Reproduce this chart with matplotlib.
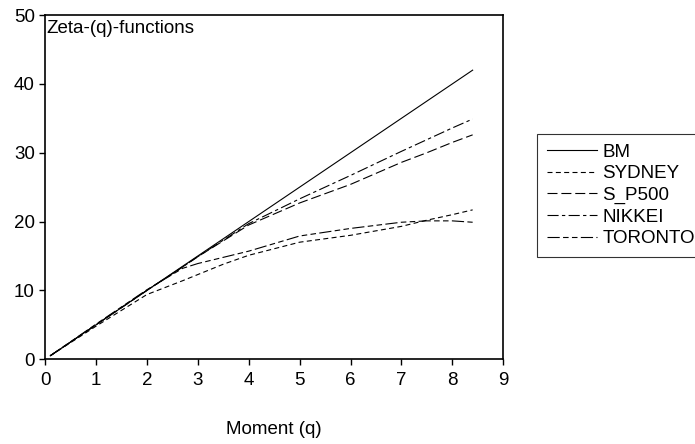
import numpy as np
import matplotlib
matplotlib.use('Agg')
import matplotlib.pyplot as plt

plt.rcParams['font.family'] = ['Liberation Sans', 'DejaVu Sans']

# moment values q
q = [0.1, 1, 2, 2.7, 3, 3.5, 4, 5, 6, 7, 7.5, 8, 8.4]

bm      = [0.5, 5.0, 10.0, 13.5, 15.0, 17.5, 20.0, 25.0, 30.0, 35.0, 37.5, 40.0, 42.0]
sydney  = [0.5, 4.8, 9.4, 11.4, 12.3, 13.8, 15.1, 17.0, 18.0, 19.3, 20.2, 21.0, 21.7]
sp500   = [0.5, 5.0, 10.0, 13.4, 14.9, 17.2, 19.5, 22.7, 25.4, 28.6, 30.0, 31.5, 32.6]
nikkei  = [0.5, 5.0, 10.0, 13.4, 14.9, 17.3, 19.7, 23.3, 26.7, 30.2, 31.9, 33.6, 34.9]
toronto = [0.5, 5.1, 10.1, 13.2, 13.9, 14.8, 15.7, 17.9, 19.0, 19.9, 20.1, 20.1, 19.9]

names = ['BM', 'SYDNEY', 'S_P500', 'NIKKEI', 'TORONTO']
series = [bm, sydney, sp500, nikkei, toronto]
styles = ['-', (0, (4.5, 3)), (0, (9, 3.5)), (0, (10, 3, 3, 3)), (0, (11, 3, 5, 3, 5, 3))]

fig = plt.figure(figsize=(6.95, 4.44), dpi=100)
ax = fig.add_axes([0.065, 0.191, 0.659, 0.775])

for y, nm, ls in zip(series, names, styles):
    ax.plot(q, y, color='black', linewidth=0.8, linestyle=ls, label=nm)

ax.set_xlim(0, 9)
ax.set_ylim(0, 50)
ax.set_xticks(np.arange(0, 10, 1))
ax.set_yticks(np.arange(0, 60, 10))
ax.tick_params(direction='out', length=4.5, width=1, labelsize=13.5)
ax.tick_params(axis='x', pad=5)
ax.tick_params(axis='y', pad=3)
for s in ax.spines.values():
    s.set_linewidth(1.2)

ax.set_xlabel('Moment (q)', fontsize=13.5, labelpad=23)
ax.text(0.002, 0.985, 'Zeta-(q)-functions', transform=ax.transAxes,
        ha='left', va='top', fontsize=13.5)

leg = fig.legend(loc='upper left', bbox_to_anchor=(0.773, 0.698), borderaxespad=0,
                 fontsize=13.5, frameon=True, fancybox=False, edgecolor='black',
                 handlelength=2.67, handletextpad=0.3, borderpad=0.5,
                 labelspacing=0.24)
leg.get_frame().set_linewidth(0.8)

fig.savefig('out.png', dpi=100)
